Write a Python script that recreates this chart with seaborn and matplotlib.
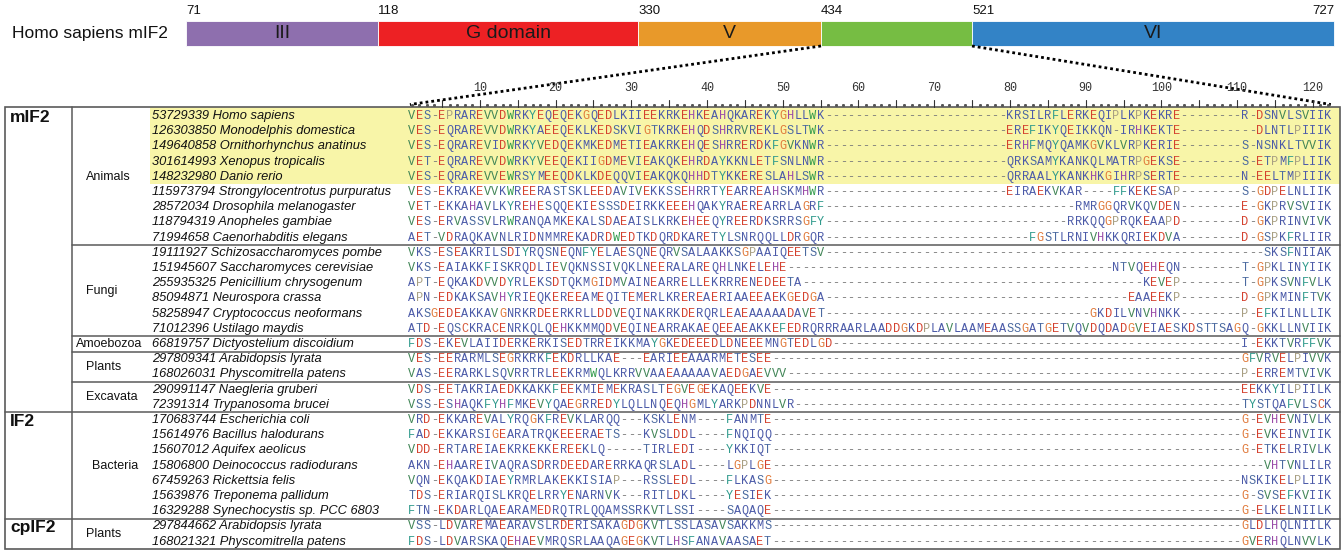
import numpy as np
import matplotlib
matplotlib.use("Agg")
import matplotlib.pyplot as plt
from matplotlib.colors import ListedColormap
from matplotlib.patches import Rectangle
import seaborn as sns

sns.set_theme(style="white")
plt.rcParams["font.family"] = ["Liberation Sans", "DejaVu Sans"]

# ---------------- domain architecture of human mIF2 ----------------
domain_bounds = [71, 118, 330, 434, 521, 727]
domain_labels = ["III", "G domain", "V", "", "VI"]
domain_colors = ["#8e6fae", "#ed2124", "#e8992a", "#76bd43", "#3383c6"]
domain_widths_px = [192, 260, 183, 151, 362]   # drawn block widths (not to scale)
expanded_block = 3                              # block shown as the alignment below

# ---------------- alignment ----------------
group_labels = ["mIF2", "IF2", "cpIF2"]
group_sizes = [20, 7, 2]
clade_labels = ["Animals", "Fungi", "Amoebozoa", "Plants", "Excavata", "Bacteria", "Plants"]
clade_sizes = [9, 6, 1, 2, 2, 7, 2]
highlight_rows = [0, 1, 2, 3, 4]

seq_ids = ["53729339", "126303850", "149640858", "301614993", "148232980",
           "115973794", "28572034", "118794319", "71994658",
           "19111927", "151945607", "255935325", "85094871", "58258947", "71012396",
           "66819757", "297809341", "168026031", "290991147", "72391314",
           "170683744", "15614976", "15607012", "15806800", "67459263",
           "15639876", "16329288", "297844662", "168021321"]

species = ["Homo sapiens", "Monodelphis domestica", "Ornithorhynchus anatinus",
           "Xenopus tropicalis", "Danio rerio", "Strongylocentrotus purpuratus",
           "Drosophila melanogaster", "Anopheles gambiae", "Caenorhabditis elegans",
           "Schizosaccharomyces pombe", "Saccharomyces cerevisiae",
           "Penicillium chrysogenum", "Neurospora crassa", "Cryptococcus neoformans",
           "Ustilago maydis", "Dictyostelium discoidium", "Arabidopsis lyrata",
           "Physcomitrella patens", "Naegleria gruberi", "Trypanosoma brucei",
           "Escherichia coli", "Bacillus halodurans", "Aquifex aeolicus",
           "Deinococcus radiodurans", "Rickettsia felis", "Treponema pallidum",
           "Synechocystis sp. PCC 6803", "Arabidopsis lyrata", "Physcomitrella patens"]

sequences = [
    "VES-EPRAREVVDWRKYEQEQEKGQEDLKIIEEKRKEHKEAHQKAREKYGHLLWK" + "-" * 24 + "KRSILRFLERKEQIPLKPKEKRE" + "-" * 8 + "R-DSNVLSVIIK",
    "VES-EQRAREVVDWRKYAEEQEKLKEDSKVIGTKRKEHQDSHRRVREKLGSLTWK" + "-" * 24 + "EREFIKYQEIKKQN-IRHKEKTE" + "-" * 10 + "DLNTLPIIIK",
    "VES-EQRAREVIDWRKYVEDQEKMKEDMETIEAKRKEHQESHRRERDKFGVKNWR" + "-" * 24 + "ERHFMQYQAMKGVKLVRPKERIE" + "-" * 8 + "S-NSNKLTVVIK",
    "VET-EQRAREVVDWRKYVEEQEKIIGDMEVIEAKQKEHRDAYKKNLETFSNLNWR" + "-" * 24 + "QRKSAMYKANKQLMATRPGEKSE" + "-" * 8 + "S-ETPMFPLIIK",
    "VES-EQRAREVVEWRSYMEEQDKLKDEQQVIEAKQKQHHDTYKKERESLAHLSWR" + "-" * 24 + "QRRAALYKANKHKGIHRPSERTE" + "-" * 8 + "N-EELTMPIIIK",
    "VES-EKRAKEVVKWREERASTSKLEEDAVIVEKKSSEHRRTYEARREAHSKMHWR" + "-" * 24 + "EIRAEKVKAR----FFKEKESAP" + "-" * 8 + "S-GDPELNLIIK",
    "VET-EKKAHAVLKYREHESQQEKIESSSDEIRKKEEEHQAKYRAEREARRLAGRF" + "-" * 33 + "RMRGGQRVKQVDEN" + "-" * 8 + "E-GKPRVSVIIK",
    "VES-ERVASSVLRWRANQAMKEKALSDAEAISLKRKEHEEQYREERDKSRRSGFY" + "-" * 32 + "RRKQQGPRQKEAAPD" + "-" * 8 + "D-GKPRINVIVK",
    "AET-VDRAQKAVNLRIDNMMREKADRDWEDTKDQRDKARETYLSNRQQLLDRGQR" + "-" * 27 + "FGSTLRNIVHKKQRIEKDVA" + "-" * 8 + "D-GSPKFRLIIR",
    "VKS-ESEAKRILSDIYRQSNEQNFYELAESQNEQRVSALAAKKSGPAAIQEETSV" + "-" * 58 + "SKSFNIIAK",
    "VKS-EAIAKKFISKRQDLIEVQKNSSIVQKLNEERALAREQHLNKELEHE" + "-" * 43 + "NTVQEHEQN" + "-" * 8 + "T-GPKLINYIIK",
    "APT-EQKAKDVVDYRLEKSDTQKMGIDMVAINEARRELLEKRRRENEDEETA" + "-" * 45 + "KEVEP" + "-" * 8 + "T-GPKSVNFVLK",
    "APN-EDKAKSAVHYRIEQKEREEAMEQITEMERLKREREAERIAAEEAEKGEDGA" + "-" * 40 + "EAAEEKP" + "-" * 8 + "D-GPKMINFTVK",
    "AKSGEDEAKKAVGNRKRDEERKRLLDDVEQINAKRKDERQRLEAEAAAAADAVET" + "-" * 35 + "GKDILVNVHNKK" + "-" * 8 + "P-EFKILNLLIK",
    "ATD-EQSCKRACENRKQLQEHKKMMQDVEQINEARRAKAEQEEAEAKKEFEDRQRRRAARLAADDGKDPLAVLAAMEAASSGATGETVQVDQDADGVEIAESKDSTTSAGQ-GKKLLNVIIK",
    "FDS-EKEVLAIIDERKERKISEDTRREIKKMAYGKEDEEEDLDNEEEMNGTEDLGD" + "-" * 54 + "I-EKKTVRFFVK",
    "VES-EERARMLSEGRKRKFEKDRLLKAE---EARIEEAAARMETESEE" + "-" * 62 + "GFVRVELPIVVK",
    "VAS-EERARKLSQVRRTRLEEKRMWQLKRRVVAAEAAAAAVAEDGAEVVV" + "-" * 60 + "P-ERREMTVIVK",
    "VDS-EETAKRIAEDKKAKKFEEKMIEMEKRASLTEGVEGEKAQEEKVE" + "-" * 62 + "EEKKYILPIILK",
    "VSS-ESHAQKFYHFMKEVYQAEGRREDYLQLLNQEQHGMLYARKPDNNLVR" + "-" * 59 + "TYSTQAFVLSCK",
    "VRD-EKKAREVALYRQGKFREVKLARQQ---KSKLENM----FANMTE" + "-" * 62 + "G-EVHEVNIVLK",
    "FAD-EKKARSIGEARATRQKEEERAETS---KVSLDDL----FNQIQQ" + "-" * 62 + "G-EVKEINVIIK",
    "VDD-ERTAREIAEKRKEKKEREEKLQ-----TIRLEDI----YKKIQT" + "-" * 62 + "G-ETKELRIVLK",
    "AKN-EHAAREIVAQRASDRRDEEDARERRKAQRSLADL----LGPLGE" + "-" * 65 + "VHTVNLILR",
    "VQN-EKQAKDIAEYRMRLAKEKKISIAP---RSSLEDL----FLKASG" + "-" * 62 + "NSKIKELPLIIK",
    "TDS-ERIARQISLKRQELRRYENARNVK---RITLDKL----YESIEK" + "-" * 62 + "G-SVSEFKVIIK",
    "FTN-EKDARLQAEARAMEDRQTRLQQAMSSRKVTLSSI----SAQAQE" + "-" * 62 + "G-ELKELNIILK",
    "VSS-LDVAREMAEARAVSLRDERISAKAGDGKVTLSSLASAVSAKKMS" + "-" * 62 + "GLDLHQLNIILK",
    "FDS-LDVARSKAQEHAEVMRQSRLAAQAGEGKVTLHSFANAVAASAET" + "-" * 62 + "GVERHQLNVVLK",
]
n_cols = len(sequences[0])
assert all(len(s) == n_cols for s in sequences)

# residue text colours
residue_colors = {
    "E": "#d4412e", "D": "#d4412e", "C": "#d65a3a",
    "K": "#4b5aa8", "R": "#4b5aa8", "A": "#4b5aa8", "Q": "#4b5aa8", "N": "#4b5aa8",
    "S": "#4b6aa0", "T": "#4b6aa0", "I": "#4b5aa8", "L": "#4b5aa8", "M": "#4b5aa8",
    "V": "#3f8455", "W": "#2f9a4a", "G": "#e0793a", "P": "#a89f82",
    "H": "#9a4aa8", "Y": "#2f9a8c", "F": "#2f9a8c", "-": "#7a7a7a",
}
highlight_color = "#f8f5a8"
line_color = "#5a5a5a"

# ---------------- layout (pixels) ----------------
W, H = 1343, 552
col_pitch, row_pitch = 7.573, 15.2
aln_left, aln_top = 407.9, 108.4
aln_right = aln_left + n_cols * col_pitch
aln_bottom = aln_top + len(sequences) * row_pitch
box_left, box_right, box_top, box_bottom = 5, 1340, 107, 548.5
group_col_x, name_x = 72, 152
bar_left, bar_top, bar_h = 186, 20.7, 25.3


def row_y(i):
    return aln_top + (i + 0.5) * row_pitch


fig = plt.figure(figsize=(W / 100, H / 100), dpi=100)
bg = fig.add_axes([0, 0, 1, 1])
bg.set_xlim(0, W)
bg.set_ylim(H, 0)
bg.axis("off")

# highlighted rows band (names + alignment)
bg.add_patch(Rectangle((150, box_top), box_right - 150,
                       aln_top + len(highlight_rows) * row_pitch - box_top,
                       color=highlight_color, lw=0, zorder=0))

# table frame
bg.add_patch(Rectangle((box_left, box_top), box_right - box_left, box_bottom - box_top,
                       fill=False, ec=line_color, lw=1.2, zorder=3))
bg.plot([group_col_x, group_col_x], [box_top, box_bottom], color=line_color, lw=1.1, zorder=3)
group_ends = np.cumsum(group_sizes)
for k in np.cumsum(clade_sizes)[:-1]:
    y = aln_top + k * row_pitch
    x0 = box_left if k in group_ends else group_col_x
    bg.plot([x0, box_right], [y, y], color=line_color, lw=1.1, zorder=3)

# group labels
start = 0
for lab, n in zip(group_labels, group_sizes):
    bg.text(10, row_y(start) + 1, lab, fontsize=12.5, fontweight="bold",
            ha="left", va="center", color="#111111")
    start += n

# clade labels
start = 0
for lab, n in zip(clade_labels, clade_sizes):
    x = 76 if len(lab) > 8 else (92 if lab == "Bacteria" else 86)
    bg.text(x, (row_y(start) + row_y(start + n - 1)) / 2, lab, fontsize=9,
            ha="left", va="center", color="#111111")
    start += n

# sequence names
for i, (gid, sp) in enumerate(zip(seq_ids, species)):
    bg.text(name_x, row_y(i), f"{gid} {sp}", fontsize=9.3, fontstyle="italic",
            ha="left", va="center", color="#111111")

# ---------------- domain bar ----------------
lefts = bar_left + np.concatenate([[0], np.cumsum(domain_widths_px)[:-1]])
bg.barh(y=bar_top + bar_h / 2, width=domain_widths_px, left=lefts, height=bar_h,
        color=domain_colors, edgecolor="white", linewidth=0.6, align="center")
for x, w, lab in zip(lefts, domain_widths_px, domain_labels):
    if lab:
        bg.text(x + w / 2, bar_top + bar_h / 2 + 0.5, lab, fontsize=14,
                ha="center", va="center", color="#1a1a1a")
bound_x = list(lefts) + [lefts[-1] + domain_widths_px[-1]]
for j, (x, b) in enumerate(zip(bound_x, domain_bounds)):
    ha = "right" if j == len(domain_bounds) - 1 else "left"
    bg.text(x, 11, str(b), fontsize=9.5, ha=ha, va="center", color="#111111")
bg.text(12, bar_top + bar_h / 2, "Homo sapiens mIF2", fontsize=12.5,
        ha="left", va="center", color="#111111")

# zoom lines from the expanded block to the alignment
bar_bottom = bar_top + bar_h
xa = lefts[expanded_block]
xb = xa + domain_widths_px[expanded_block]
for x0, x1 in [(xa, aln_left + 2), (xb, aln_right - 1)]:
    bg.plot([x0, x1], [bar_bottom, 104.5], color="black", lw=2.0,
            linestyle=(0, (1, 1.1)), zorder=2)

# ---------------- alignment grid ----------------
ax = fig.add_axes([aln_left / W, 1 - aln_bottom / H,
                   (aln_right - aln_left) / W, (aln_bottom - aln_top) / H])
ax.set_zorder(2)
hl = np.zeros((len(sequences), n_cols))
hl[highlight_rows, :] = 1
letters = np.array([list(s) for s in sequences])
sns.heatmap(hl, annot=letters, fmt="", cmap=ListedColormap([(1, 1, 1, 0), highlight_color]),
            vmin=0, vmax=1, cbar=False, xticklabels=False, yticklabels=False,
            linewidths=0, ax=ax,
            annot_kws=dict(fontfamily="Liberation Mono", fontsize=8.6))
ax.set_facecolor((0, 0, 0, 0))
for t in ax.texts:
    x, y = t.get_position()
    ch = letters[int(y), int(x)]
    t.set_color(residue_colors.get(ch, "#333333"))

# position ruler
for c in range(1, n_cols + 1):
    x = c - 0.5
    if c % 5 == 0:
        ax.plot([x, x], [-0.55, -0.12], color="#333333", lw=0.8, clip_on=False)
    else:
        ax.plot([x], [-0.24], marker="s", ms=1.1, color="#555555", clip_on=False)
    if c % 10 == 0:
        ax.text(x, -1.32, str(c), fontsize=8.5, fontfamily="Liberation Mono",
                ha="center", va="center", color="#333333", clip_on=False)

fig.savefig("out.png", dpi=100)
